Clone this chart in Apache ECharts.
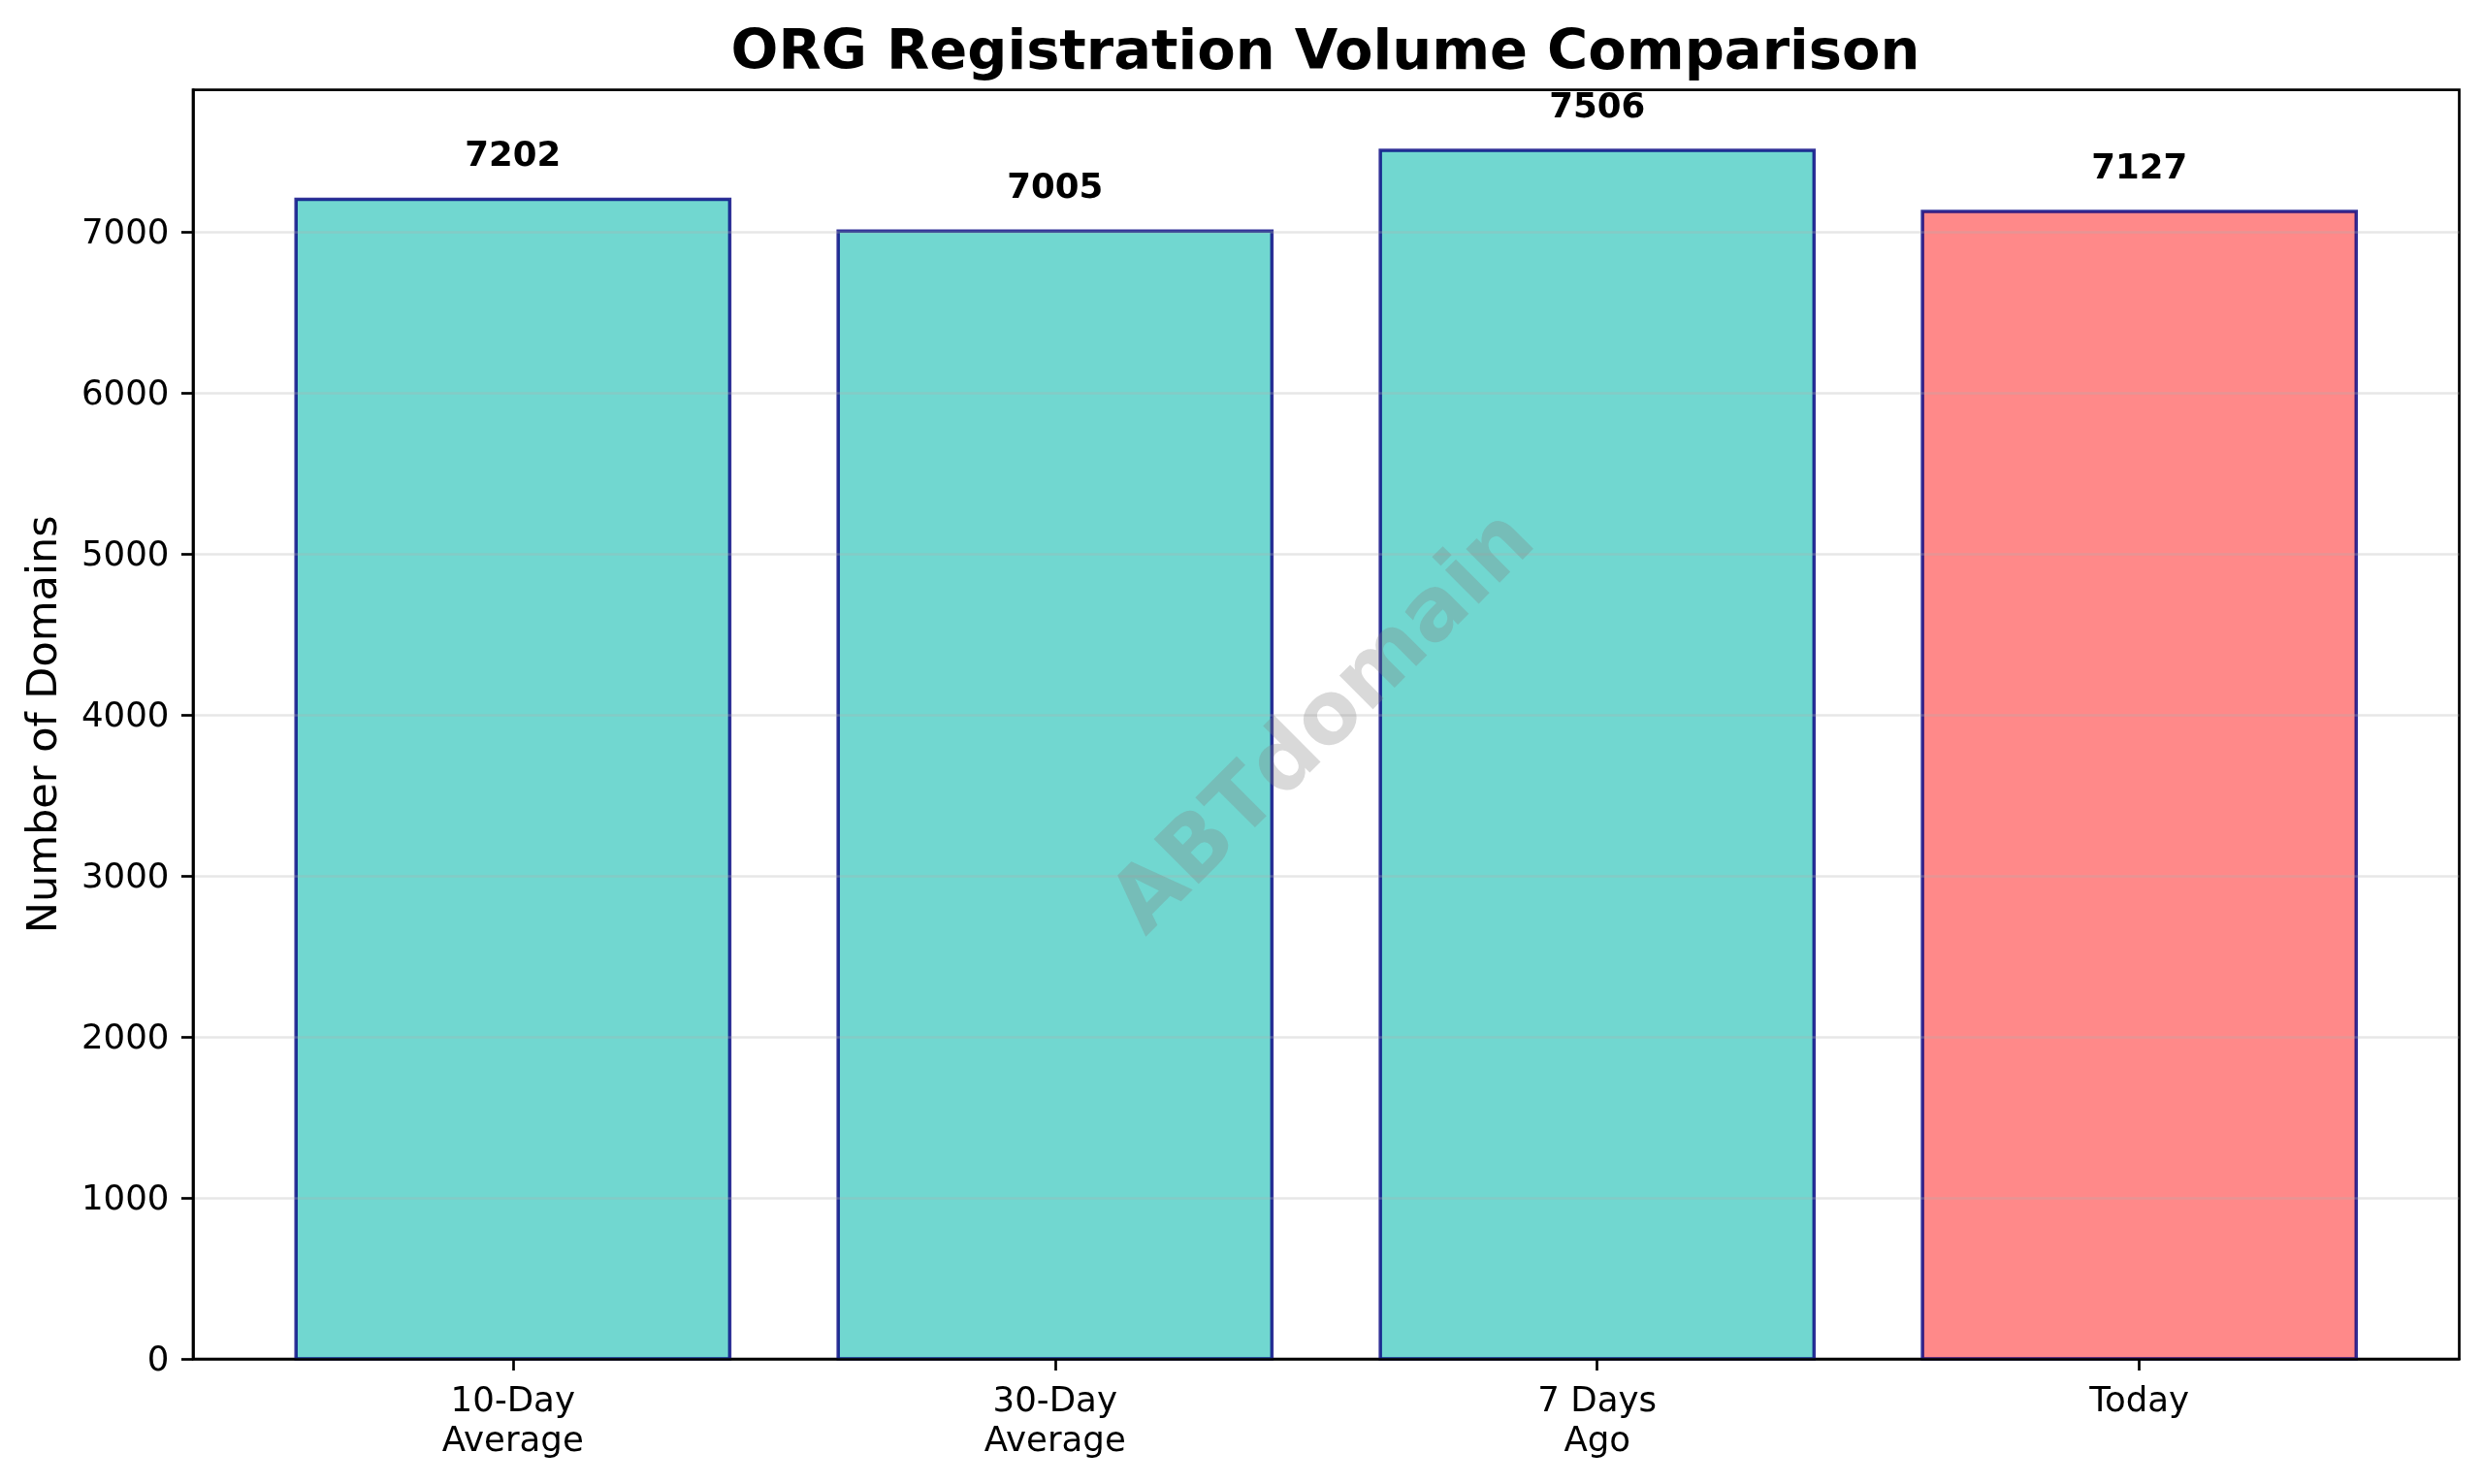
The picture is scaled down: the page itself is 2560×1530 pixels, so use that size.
<!DOCTYPE html>
<html>
<head>
<meta charset="utf-8">
<style>html,body{margin:0;padding:0;background:#fff}#c{width:2560px;height:1530px}</style>
<script src="https://cdn.jsdelivr.net/npm/echarts@6/dist/echarts.min.js"></script>
</head>
<body>
<div id="c"></div>
<script>
const categories = ['10-Day\nAverage', '30-Day\nAverage', '7 Days\nAgo', 'Today'];
const positions = [0, 1, 2, 3];
const values = [7202, 7005, 7506, 7127];
const barColors = ['#4ECDC4', '#4ECDC4', '#4ECDC4', '#FF6B6B'];
const yTicks = [0, 1000, 2000, 3000, 4000, 5000, 6000, 7000];
const yMax = 7881.3;
const xMin = -0.59, xMax = 3.59;
const barSpan = 0.8;
const FONT = 'DejaVu Sans';

const chart = echarts.init(document.getElementById('c'), null, {renderer: 'canvas'});
chart.setOption({
  animation: false,
  backgroundColor: '#fff',
  title: {
    text: 'ORG Registration Volume Comparison',
    left: 1361.5, top: 22, textAlign: 'center',
    textStyle: {fontFamily: FONT, fontWeight: 'bold', fontSize: 57.5, color: '#000'}
  },
  grid: {left: 199, right: 24.5, top: 92.7, bottom: 129, show: true, borderColor: '#000', borderWidth: 2.7, backgroundColor: '#fff'},
  xAxis: {
    type: 'value', min: xMin, max: xMax, z: 5,
    splitLine: {show: false},
    axisLine: {show: true, onZero: false, lineStyle: {color: '#000', width: 2.7}},
    axisTick: {show: true, length: 12, customValues: positions, lineStyle: {color: '#000', width: 2.7}},
    axisLabel: {
      customValues: positions, margin: 24, color: '#000',
      fontFamily: FONT, fontSize: 35.6, lineHeight: 41,
      formatter: v => categories[v]
    }
  },
  yAxis: {
    type: 'value', min: 0, max: yMax, z: 5,
    name: 'Number of Domains', nameLocation: 'middle', nameGap: 131,
    nameTextStyle: {fontFamily: FONT, fontSize: 43, color: '#000'},
    axisLine: {show: true, onZero: false, lineStyle: {color: '#000', width: 2.7}},
    axisTick: {show: true, length: 12, customValues: yTicks, lineStyle: {color: '#000', width: 2.7}},
    axisLabel: {customValues: yTicks, margin: 24.5, verticalAlign: 'top', lineHeight: 5, color: '#000', fontFamily: FONT, fontSize: 35.6, formatter: v => String(v)},
    splitLine: {show: true, lineStyle: {color: 'rgba(176,176,176,0.3)', width: 2.7}}
  },
  series: [{
    type: 'custom',
    encode: {x: 0, y: 1},
    data: values.map((v, i) => [positions[i], v]),
    renderItem: (params, api) => {
      const x = api.value(0), y = api.value(1);
      const tl = api.coord([x - barSpan / 2, y]);
      const br = api.coord([x + barSpan / 2, 0]);
      return {
        type: 'rect',
        shape: {x: tl[0], y: tl[1], width: br[0] - tl[0], height: br[1] - tl[1]},
        style: {fill: barColors[params.dataIndex], stroke: '#000080', lineWidth: 3.5, opacity: 0.8},
        textContent: {
          style: {text: String(y), fill: '#000', font: 'bold 35.6px "DejaVu Sans"'}
        },
        textConfig: {position: 'top', distance: 23.5}
      };
    }
  }],
  graphic: [{
    type: 'text', x: 1367, y: 747, rotation: Math.PI / 4, z: 100,
    style: {
      text: 'ABTdomain', fill: 'rgba(128,128,128,0.3)',
      font: 'bold 89.6px "DejaVu Sans"', align: 'center', verticalAlign: 'middle'
    }
  }]
});
</script>
</body>
</html>
